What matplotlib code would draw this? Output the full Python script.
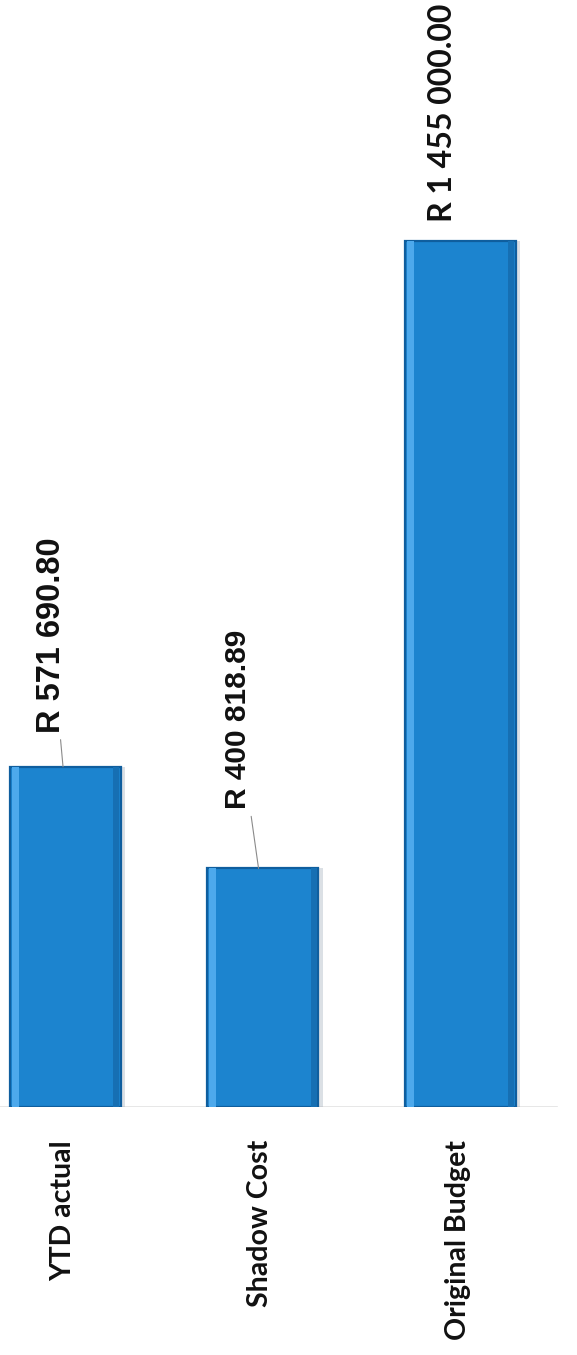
import matplotlib
matplotlib.use("Agg")
import matplotlib.pyplot as plt
import numpy as np

categories = ["YTD actual", "Shadow Cost", "Original Budget"]
values = [571690.80, 400818.89, 1455000.00]
value_labels = ["R 571 690.80", "R 400 818.89", "R 1 455 000.00"]

W, H, DPI = 577, 1355, 100
fig = plt.figure(figsize=(W / DPI, H / DPI), dpi=DPI)
fig.patch.set_facecolor("white")

# axes geometry in pixels
base_px = 1107
px_per_unit = 866 / 1455000
ymax = 1600000
top_px = base_px - ymax * px_per_unit
ax = fig.add_axes([0, (H - base_px) / H, 1, (base_px - top_px) / H])
ax.set_ylim(0, ymax)
spacing = 197.5
x0px = 65
ax.set_xlim(-x0px / spacing, (W - x0px) / spacing)
ax.axis("off")

x = np.arange(len(categories))
width = 111 / spacing

# soft shadow
ax.bar(x + 0.025, values, width, bottom=0, color="#9aa7b5", alpha=0.35, zorder=1)
# main bar
ax.bar(x, values, width, color="#1C84CF", edgecolor="#0F5E9E", linewidth=1.6, zorder=2)
# left highlight bevel
ax.bar(x - width / 2 + 0.03, values, 0.035, color="#4DA9EC", linewidth=0, zorder=3)
# right dark bevel
ax.bar(x + width / 2 - 0.022, values, 0.03, color="#166FB3", linewidth=0, zorder=3)

# baseline
ax.plot([-x0px / spacing, (557 - x0px) / spacing], [0, 0], color="#e3e3e3", lw=1.2, zorder=0)

# value labels: (dx px, dy px, leader, font, size)
styles = [(-12, 34, True, "Liberation Sans", 23.5),
          (-21, 59, True, "Liberation Sans", 21.5),
          (-18, 19, False, "Lato", 23)]
leader_dx = [-0.01, -0.02, 0]
for i, (v, lab, (dx, dy, arrow, fam, fs)) in enumerate(zip(values, value_labels, styles)):
    ax.annotate(lab, xy=(i + leader_dx[i], v), xytext=(dx, dy), textcoords="offset pixels",
                rotation=90, ha="center", va="bottom", fontsize=fs,
                fontweight="bold", family=fam, color="#111111",
                arrowprops=dict(arrowstyle="-", color="#8a8a8a", lw=0.8,
                                shrinkA=3, shrinkB=0) if arrow else None,
                zorder=5)

# category labels
for i, c in enumerate(categories):
    ax.annotate(c, xy=(i, 0), xytext=(-2, -33), textcoords="offset pixels",
                rotation=90, ha="center", va="top", fontsize=20.5,
                fontweight="bold", family="Lato", color="#111111",
                annotation_clip=False)

fig.savefig("out.png", dpi=DPI)
